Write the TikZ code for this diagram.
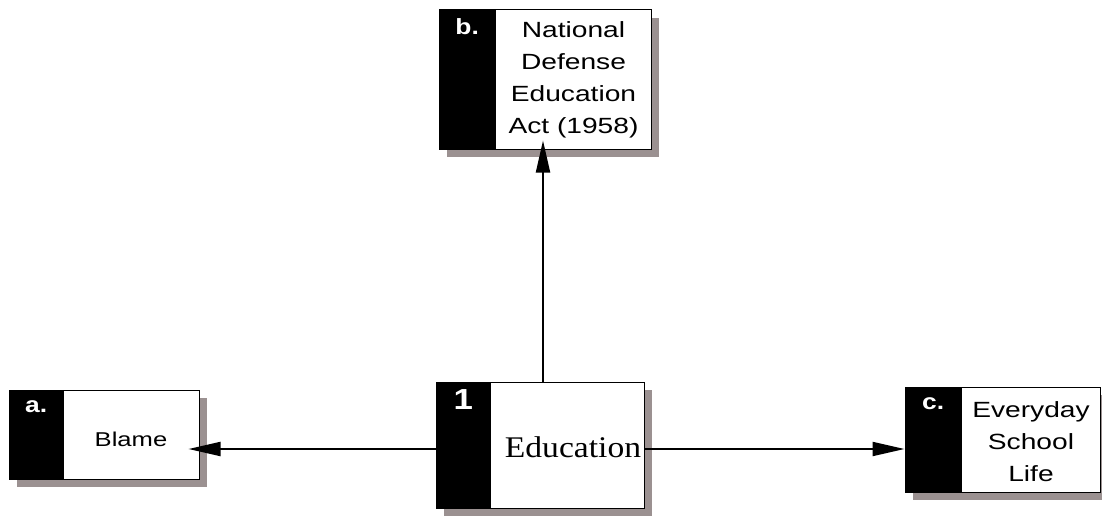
\documentclass[tikz,border=0pt]{standalone}
\usepackage{fontspec}
\usepackage{tikz}
\usetikzlibrary{arrows.meta, shadows}
\setmainfont{Liberation Serif}
\newfontfamily\cardfont[FakeStretch=1.28]{Liberation Sans}
\newfontfamily\tabfont[FakeStretch=1.2]{Liberation Sans}
\definecolor{shadowgray}{RGB}{155,145,145}

\tikzset{
	card/.style={draw, fill=white, line width=1pt, inner sep=0pt,
		drop shadow={shadow xshift=8pt, shadow yshift=-8pt, fill=shadowgray, opacity=1}},
	tab/.style={fill=black, inner sep=0pt, anchor=west},
	tablabel/.style={text=white, inner sep=0pt, anchor=north, font=\tabfont\bfseries\fontsize{22}{22}\selectfont},
	cardtext/.style={align=center, inner sep=0pt, font=\cardfont\fontsize{22}{32}\selectfont},
	link/.style={line width=2pt, -{Triangle[length=32pt, width=14pt]}}
}

\begin{document}
\begin{tikzpicture}[x=1pt, y=-1pt]
	\useasboundingbox (0,0) rectangle (1102,516);

	% National Defense Education Act
	\node [card, minimum width=212pt, minimum height=139pt] (nda) at (545,79.5) {};
	\node [tab, minimum width=57pt, minimum height=139pt] (ndatab) at (nda.west) {};
	\node [tablabel] (ndalabel) at ([yshift=-9pt]ndatab.north) {b.};
	\node [cardtext] (ndatext) at (573.5,80) {National\\Defense\\Education\\Act (1958)};

	% Education
	\node [card, minimum width=208pt, minimum height=126pt] (edu) at (540,445) {};
	\node [tab, minimum width=55pt, minimum height=126pt] (edutab) at (edu.west) {};
	\node [tablabel, font=\tabfont\bfseries\fontsize{29}{29}\selectfont] (edulabel) at ([yshift=-8pt]edutab.north) {1};
	\node [inner sep=0pt, font=\addfontfeature{FakeStretch=1.12}\fontsize{30}{30}\selectfont] (edutext) at (573,447) {Education};

	% Blame
	\node [card, minimum width=190pt, minimum height=89pt] (blame) at (104,434.5) {};
	\node [tab, minimum width=55pt, minimum height=89pt] (blametab) at (blame.west) {};
	\node [tablabel] (blamelabel) at ([yshift=-11pt]blametab.north) {a.};
	\node [cardtext, font=\cardfont\fontsize{20}{30}\selectfont] (blametext) at (131,439) {Blame};

	% Everyday School Life
	\node [card, minimum width=195pt, minimum height=105pt] (life) at (1002.5,439.5) {};
	\node [tab, minimum width=57pt, minimum height=105pt] (lifetab) at (life.west) {};
	\node [tablabel] (lifelabel) at ([yshift=-11pt]lifetab.north) {c.};
	\node [cardtext] (lifetext) at (1031,442) {Everyday\\School\\Life};

	% links
	\coordinate (up) at ([xshift=3pt]edu.north);
	\coordinate (lt) at ([yshift=-4pt]edu.west);
	\coordinate (rt) at ([yshift=-4pt]edu.east);
	\draw [link, shorten >=-9pt] (up) -- (up |- nda.south);
	\draw [link, shorten >=-11pt] (lt) -- (lt -| blame.east);
	\draw [link] (rt) -- (rt -| life.west);
\end{tikzpicture}
\end{document}
